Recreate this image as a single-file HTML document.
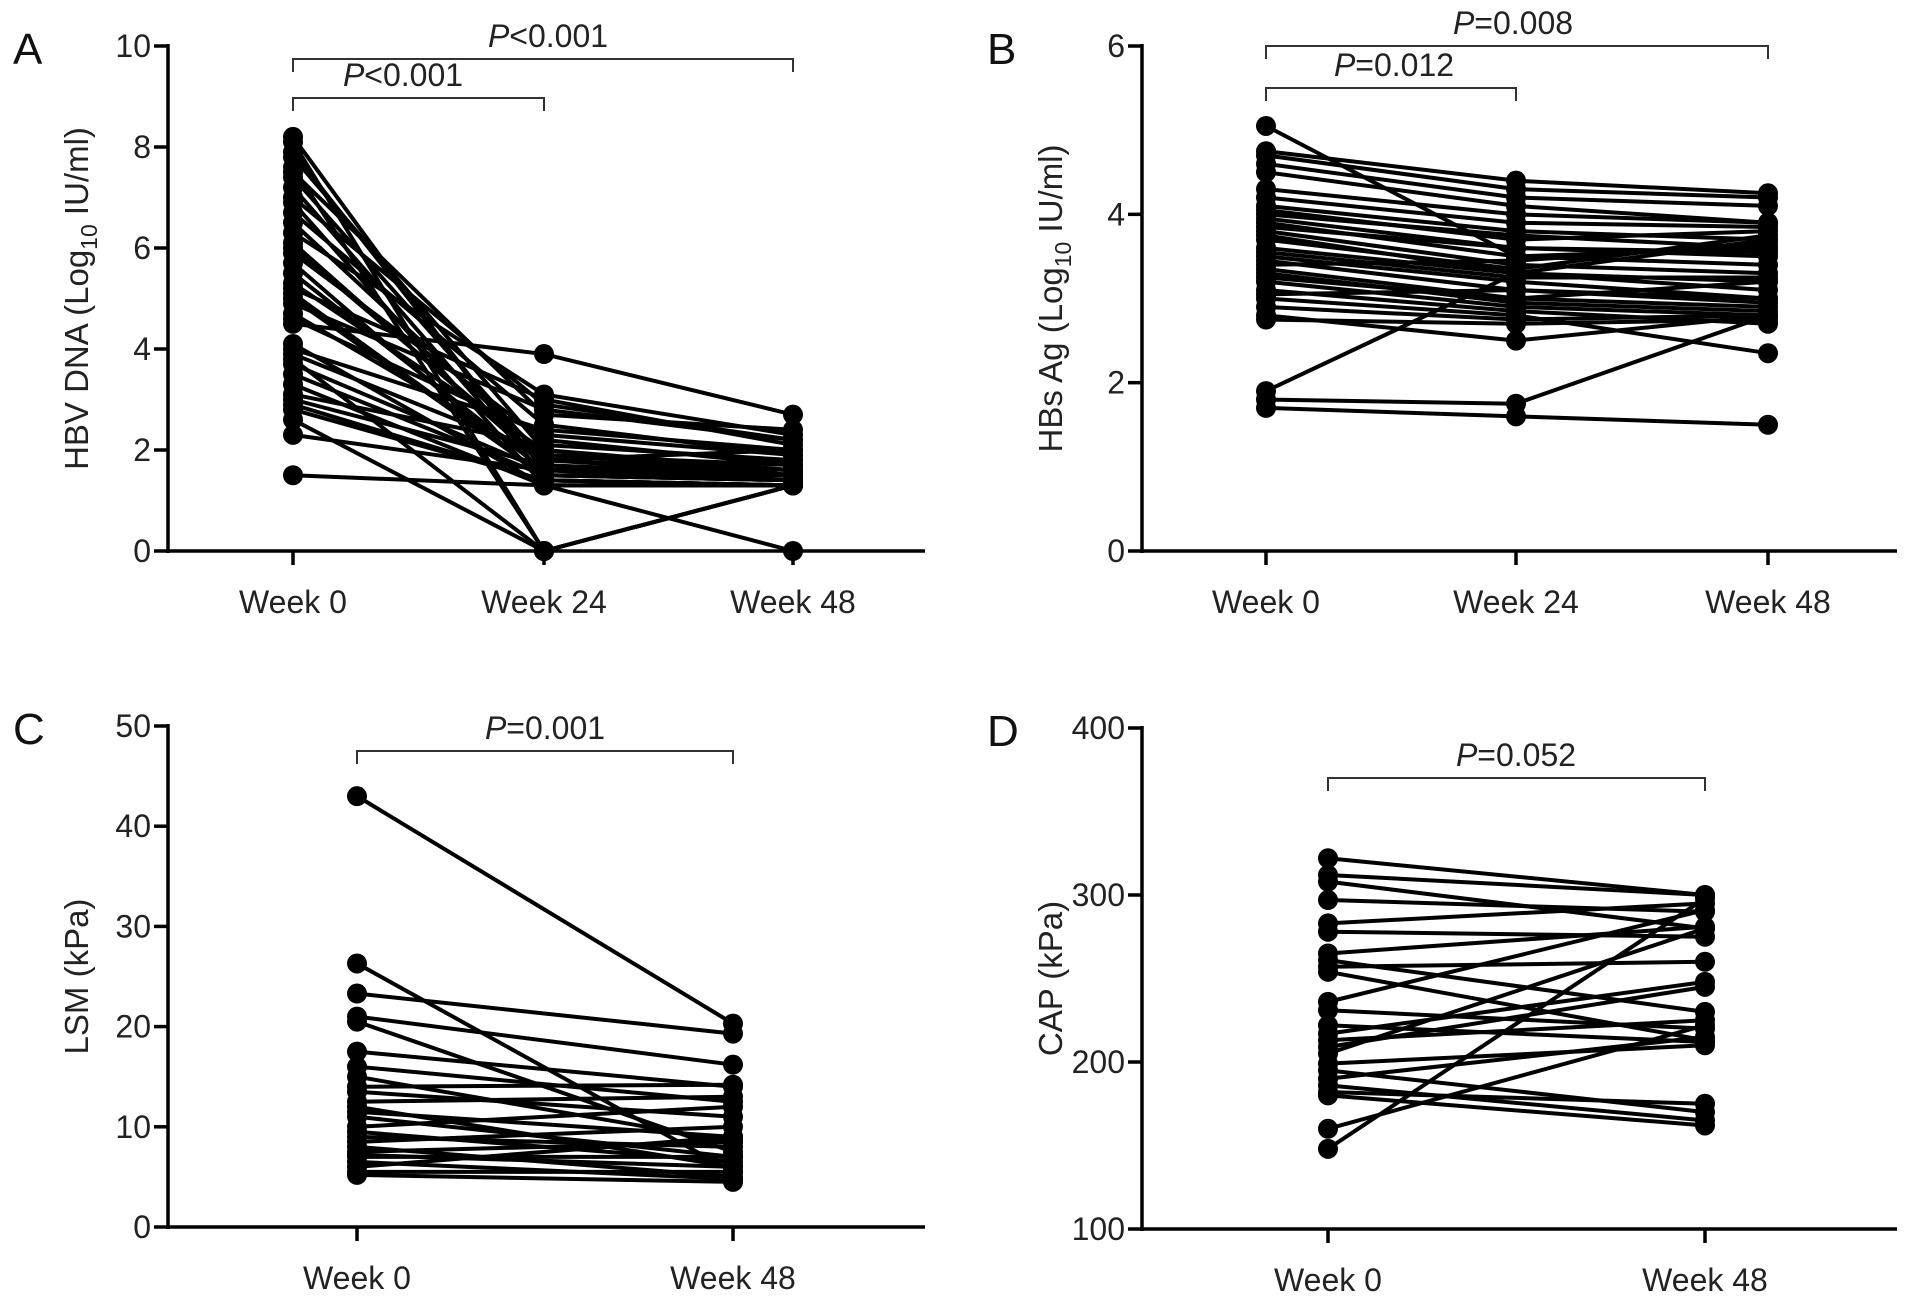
<!DOCTYPE html>
<html><head><meta charset="utf-8"><style>
html,body{margin:0;padding:0;background:#fff;}
svg{display:block;font-family:"Liberation Sans",Arial,sans-serif;}
</style></head><body>
<svg id="fig" width="1913" height="1305" viewBox="0 0 1913 1305" xmlns="http://www.w3.org/2000/svg"></svg>
<script>
// Panel A: HBV DNA
const aCategories = ["Week 0","Week 24","Week 48"];
const aWeek0 = [8.2,8.1,7.9,7.8,7.6,7.4,7.2,7.0,6.9,6.7,6.5,6.3,6.1,5.9,5.7,5.5,5.3,5.2,5.0,4.9,4.7,4.5,4.1,4.0,3.9,3.8,3.5,3.3,3.1,3.0,2.8,2.6,2.3,1.5,7.5,6.0,5.1,4.6,3.7,2.9];
const aWeek24 = [1.4,0,1.6,2.0,0,1.8,1.5,2.9,1.3,2.5,1.9,3.1,1.7,2.2,1.4,1.6,2.0,3.0,1.5,2.8,1.8,3.9,1.3,2.4,1.9,0,1.5,1.3,2.1,1.7,1.4,0,1.6,1.3,2.7,1.8,1.5,2.3,1.6,1.4];
const aWeek48 = [1.3,1.3,1.8,1.5,1.3,2.0,1.4,2.2,1.3,1.9,1.6,2.3,1.4,1.7,1.3,1.5,1.6,2.1,1.4,2.2,1.5,2.7,1.3,2.0,1.7,1.3,1.4,0,1.8,1.5,1.3,1.3,1.4,1.3,2.4,1.6,1.5,1.9,1.4,1.3];
const aTicks = [0,2,4,6,8,10];
// Panel B: HBsAg
const bCategories = ["Week 0","Week 24","Week 48"];
const bWeek0 = [5.05,4.75,4.7,4.6,4.3,4.2,4.1,4.05,4.0,3.95,3.9,3.8,3.75,3.7,3.6,3.5,3.45,3.4,3.35,3.3,3.2,3.1,3.05,3.0,2.9,2.8,2.75,1.9,1.8,1.7,4.5,3.85,3.55,3.25];
const bWeek24 = [3.5,4.4,4.3,4.2,4.0,3.9,3.8,3.7,3.75,3.6,3.5,3.4,3.3,3.35,3.3,3.2,3.1,3.45,3.0,2.95,2.9,2.85,3.1,2.8,2.75,2.5,2.7,3.3,1.75,1.6,4.1,3.6,3.25,3.0];
const bWeek48 = [3.6,4.25,4.2,4.1,3.9,3.85,3.7,3.8,3.6,3.5,3.4,3.3,3.2,3.75,3.1,3.0,2.95,3.65,2.9,2.85,2.8,2.7,3.0,2.35,2.8,2.8,2.75,3.7,2.8,1.5,3.9,3.55,3.25,3.2];
const bTicks = [0,2,4,6];
// Panel C: LSM
const cCategories = ["Week 0","Week 48"];
const cWeek0 = [43,26.3,23.3,21,20.5,17.5,16,15,14,13.5,12.5,12,11.5,11,10,9.5,9,8.5,8,7.5,7.2,7,6.5,6,5.5,5.2];
const cWeek48 = [20.3,5.5,19.3,16.2,7.5,14,12.5,8.5,14.2,11,13,6,9,7,12,6.5,8,10,5,8.5,6,7,4.8,9,5.5,4.5];
const cTicks = [0,10,20,30,40,50];
// Panel D: CAP
const dCategories = ["Week 0","Week 48"];
const dWeek0 = [322,312,308,297,283,278,265,261,257,254,236,231,222,217,213,209,205,199,195,190,186,182,180,160,148];
const dWeek48 = [300,300,280,290,295,275,281,230,260,213,291,220,212,248,225,245,280,210,170,215,165,175,162,222,298];
const dTicks = [100,200,300,400];

const NS = "http://www.w3.org/2000/svg";
const svg = document.getElementById("fig");
function mk(tag, attrs, parent, text){
  const e = document.createElementNS(NS, tag);
  for (const k in attrs) e.setAttribute(k, attrs[k]);
  if (text !== undefined) e.textContent = text;
  (parent||svg).appendChild(e);
  return e;
}

function panel(cfg){
  const g = mk("g", {});
  
  
  const ymin = cfg.ticks[0], ymax = cfg.ticks[cfg.ticks.length-1];
  const Y = v => cfg.y0 + (v - ymin) / (ymax - ymin) * (cfg.y1 - cfg.y0);
  const X = i => cfg.xs[i];
  const lt = mk("text", {x: cfg.ax - 155, y: cfg.y1 + 18, "font-size": 44, fill: "#111"}, g, cfg.letter);
  
  
  const series = cfg.series;
  const n = series[0].length;
  for (let p = 0; p < n; p++){
    const pts = series.map((s, i) => X(i) + "," + Y(s[p])).join(" ");
    const pl = mk("polyline", {points: pts, fill: "none", stroke: "#000", "stroke-width": 4}, g);
    
    
  }
  for (let p = 0; p < n; p++){
    series.forEach((s, i) => {
      const c = mk("circle", {cx: X(i), cy: Y(s[p]), r: 10, fill: "#000"}, g);
      
      
    });
  }
  const ya = mk("line", {x1: cfg.ax, y1: cfg.y1 - 2, x2: cfg.ax, y2: cfg.y0 + 2, stroke: "#000", "stroke-width": 3.5}, g);
  
  
  const xa = mk("line", {x1: cfg.ax - 2, y1: cfg.y0, x2: cfg.xend, y2: cfg.y0, stroke: "#000", "stroke-width": 3.5}, g);
  
  
  cfg.ticks.forEach(t => {
    mk("line", {x1: cfg.ax - 14, y1: Y(t), x2: cfg.ax, y2: Y(t), stroke: "#000", "stroke-width": 3.5}, g);
    const tl = mk("text", {x: cfg.ax - 17, y: Y(t) + 11, "font-size": 32, "text-anchor": "end", fill: "#222"}, g, String(t));
    
    
  });
  cfg.cats.forEach((c, i) => {
    mk("line", {x1: X(i), y1: cfg.y0, x2: X(i), y2: cfg.y0 + 14, stroke: "#000", "stroke-width": 3.5}, g);
    const xl = mk("text", {x: X(i), y: cfg.y0 + 62, "font-size": 32, "text-anchor": "middle", fill: "#222"}, g, c);
    
    
  });
  const tt = mk("text", {transform: "translate(" + (cfg.ax - 80) + "," + ((cfg.y0 + cfg.y1)/2) + ") rotate(-90)", "font-size": 33, "text-anchor": "middle", fill: "#222"}, g);
  
  
  if (cfg.sub){
    mk("tspan", {}, tt, cfg.title[0]);
    mk("tspan", {"font-size": 23, dy: 9}, tt, cfg.title[1]);
    mk("tspan", {dy: -9}, tt, cfg.title[2]);
  } else tt.textContent = cfg.title;
  cfg.brackets.forEach(b => {
    const x1 = X(b.i), x2 = X(b.j);
    const br = mk("path", {d: "M" + x1 + "," + (b.y + 13) + "V" + b.y + "H" + x2 + "V" + (b.y + 13), fill: "none", stroke: "#333", "stroke-width": 2}, g);
    
    
    const pt = mk("text", {x: b.lx, y: b.y - 12, "font-size": 32, "text-anchor": "middle", fill: "#222"}, g);
    
    
    mk("tspan", {"font-style": "italic"}, pt, "P");
    mk("tspan", {}, pt, b.txt);
  });
}

panel({name: "panel-a-hbv-dna", letter: "A", ax: 168, xend: 925, y0: 551, y1: 46, xs: [293,544,793],
  ticks: aTicks, cats: aCategories, series: [aWeek0, aWeek24, aWeek48],
  sub: true, title: ["HBV DNA (Log", "10", " IU/ml)"],
  brackets: [{i:0,j:1,y:98,lx:403,txt:"<0.001"},{i:0,j:2,y:59,lx:548,txt:"<0.001"}]});
panel({name: "panel-b-hbsag", letter: "B", ax: 1142, xend: 1897, y0: 551, y1: 46, xs: [1266,1516,1768],
  ticks: bTicks, cats: bCategories, series: [bWeek0, bWeek24, bWeek48],
  sub: true, title: ["HBs Ag (Log", "10", " IU/ml)"],
  brackets: [{i:0,j:1,y:88,lx:1394,txt:"=0.012"},{i:0,j:2,y:46,lx:1513,txt:"=0.008"}]});
panel({name: "panel-c-lsm", letter: "C", ax: 168, xend: 925, y0: 1227, y1: 726, xs: [357,733],
  ticks: cTicks, cats: cCategories, series: [cWeek0, cWeek48],
  sub: false, title: "LSM (kPa)",
  brackets: [{i:0,j:1,y:751,lx:545,txt:"=0.001"}]});
panel({name: "panel-d-cap", letter: "D", ax: 1142, xend: 1897, y0: 1229, y1: 728, xs: [1328,1705],
  ticks: dTicks, cats: dCategories, series: [dWeek0, dWeek48],
  sub: false, title: "CAP (kPa)",
  brackets: [{i:0,j:1,y:778,lx:1516,txt:"=0.052"}]});
</script>
</body></html>
